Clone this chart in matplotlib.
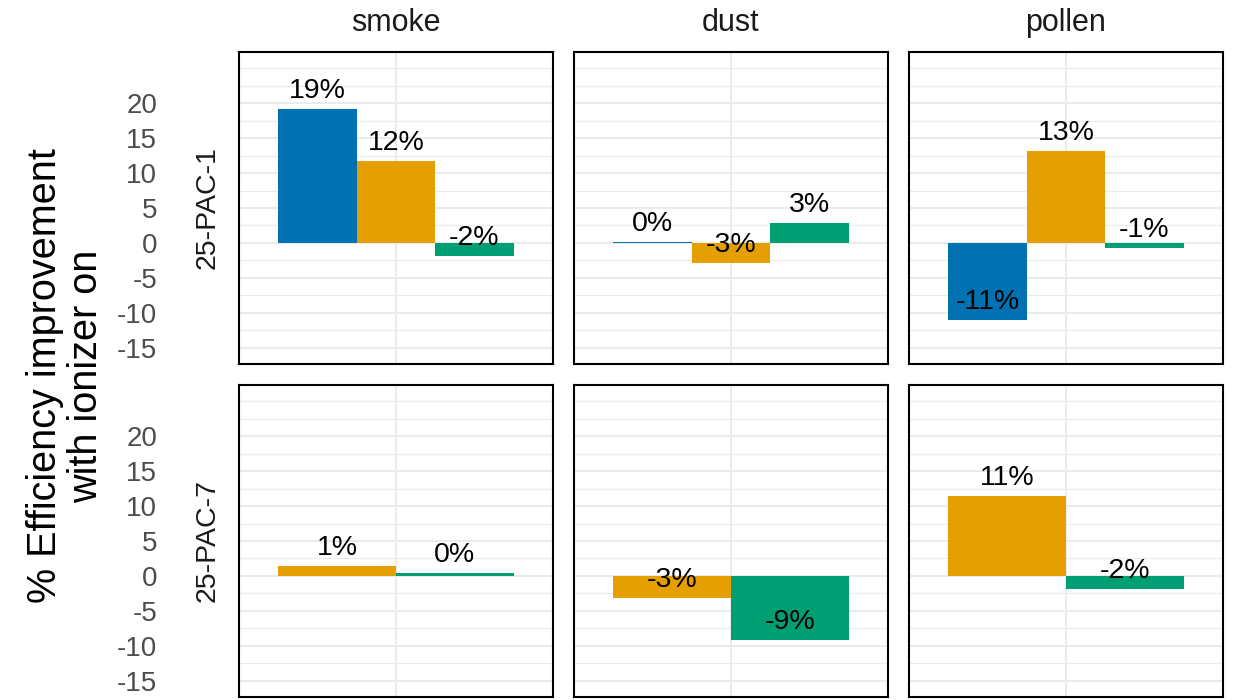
import numpy as np
import matplotlib
matplotlib.use('Agg')
import matplotlib.pyplot as plt

plt.rcParams['font.family'] = ['Liberation Sans', 'DejaVu Sans']
plt.rcParams['axes.unicode_minus'] = False

# 패널 구성
materials = ['smoke', 'dust', 'pollen']
units = ['25-PAC-1', '25-PAC-7']

# 값, 순서: smoke, dust, pollen
pac1_blue = [19.1, 0.15, -11.0]
pac1_orange = [11.7, -2.9, 13.1]
pac1_green = [-1.9, 2.9, -0.7]

pac7_blue = [np.nan, np.nan, np.nan]
pac7_orange = [1.4, -3.1, 11.4]
pac7_green = [0.4, -9.2, -1.9]

values = {
    '25-PAC-1': [pac1_blue, pac1_orange, pac1_green],
    '25-PAC-7': [pac7_blue, pac7_orange, pac7_green],
}
colors = ['#0072B2', '#E69F00', '#009E73']

y_ticks = [-15, -10, -5, 0, 5, 10, 15, 20]

W, H = 1237, 700
fig = plt.figure(figsize=(W / 100, H / 100), dpi=100)

col_left = [239, 574, 909]
col_w = 314
row_top = [52, 385]
row_h = 312

for r, unit in enumerate(units):
    for c, mat in enumerate(materials):
        ax = fig.add_axes([col_left[c] / W, 1 - (row_top[r] + row_h) / H, col_w / W, row_h / H])
        ax.set_xlim(0.4, 1.6)
        ax.set_ylim(-17.3, 27.3)

        # 그리드 (ggplot 스타일)
        for y in np.arange(-17.5, 27.6, 2.5):
            if y in y_ticks:
                ax.axhline(y, color='#EBEBEB', lw=1.5, zorder=0)
            else:
                ax.axhline(y, color='#EBEBEB', lw=0.8, zorder=0)
        ax.axvline(1, color='#EBEBEB', lw=1.5, zorder=0)

        present = [(i, s[c]) for i, s in enumerate(values[unit]) if not np.isnan(s[c])]
        n = len(present)
        w = 0.9 / n
        for k, (i, v) in enumerate(present):
            x = 1 - 0.45 + w * (k + 0.5)
            ax.bar(x, v, width=w, color=colors[i], zorder=2)
            ax.annotate(f"{round(v):.0f}%", (x, v), xytext=(0, 8), textcoords='offset points',
                        ha='center', va='baseline', fontsize=20.5, color='black', zorder=3)

        for sp in ax.spines.values():
            sp.set_color('black')
            sp.set_linewidth(1.5)
        ax.set_xticks([])
        ax.set_yticks(y_ticks)
        if c == 0:
            ax.tick_params(axis='y', length=0, pad=59, labelsize=20, labelcolor='#4D4D4D')
            ax.text(-0.1, 0.5, unit, transform=ax.transAxes, rotation=90, ha='center', va='center',
                    fontsize=20.5, color='#1A1A1A')
        else:
            ax.tick_params(axis='y', length=0, labelleft=False)

        if r == 0:
            ax.text(0.5, 1 + 29 / row_h, mat, transform=ax.transAxes, ha='center', va='center',
                    fontsize=22, color='#1A1A1A')

fig.text(66 / W, 1 - 376 / H, '% Efficiency improvement\nwith ionizer on', rotation=90,
         ha='center', va='center', fontsize=28.5, multialignment='center', linespacing=1.1)

fig.savefig('out.png', dpi=100)
